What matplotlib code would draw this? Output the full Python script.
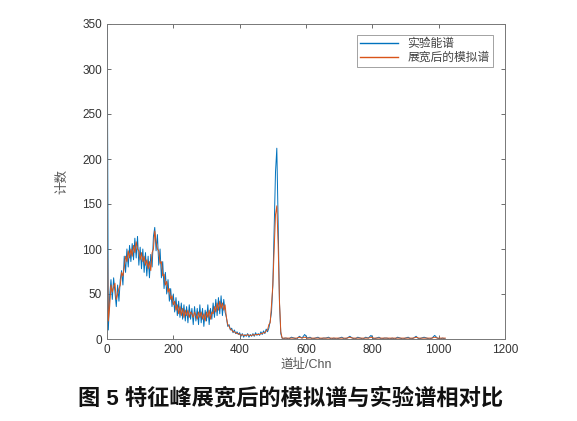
import numpy as np
import matplotlib
matplotlib.use("Agg")
import matplotlib.pyplot as plt

plt.rcParams['font.family'] = ['Liberation Sans', 'Noto Sans CJK SC']

# channels: fine step up to the peak, coarser on the flat tail
ch_main = np.arange(0, 540, 4)
ch_tail = np.arange(540, 1021, 8)

exp_main = [420, 10, 48, 66, 44, 68, 52, 36, 60, 42,
            66, 76, 60, 92, 74, 100, 80, 104, 86, 106,
            88, 112, 90, 114, 82, 102, 78, 100, 74, 96,
            70, 92, 68, 94, 80, 114, 124, 98, 116, 82,
            100, 68, 86, 56, 74, 50, 66, 42, 56, 36,
            50, 30, 46, 26, 42, 24, 40, 22, 38, 20,
            36, 18, 38, 22, 34, 16, 36, 20, 34, 16,
            38, 18, 34, 14, 32, 20, 38, 16, 34, 22,
            40, 24, 44, 26, 46, 28, 48, 26, 44, 30,
            24, 14, 16, 10, 12, 7, 10, 6, 8, 5,
            7, 3, 6, 2, 5, 3, 6, 2, 5, 3,
            6, 3, 7, 4, 6, 4, 8, 5, 9, 6,
            11, 8, 12, 20, 30, 60, 120, 185, 212, 130,
            40, 6, 1, 0, 1]
exp_tail = [1, 0, 2, 1, 0, 3, 1, 5, 1, 2,
            0, 1, 2, 0, 1, 1, 2, 0, 1, 0,
            1, 2, 0, 1, 3, 1, 0, 2, 1, 0,
            2, 1, 4, 0, 1, 2, 0, 1, 1, 0,
            1, 0, 2, 1, 0, 1, 2, 0, 1, 3,
            0, 1, 2, 1, 0, 1, 4, 1, 0, 1,
            0]

# simulated spectrum after peak broadening
sim_main = [150, 20, 36, 60, 52, 58, 62, 44, 50, 56,
            60, 74, 70, 80, 92, 86, 98, 90, 100, 92,
            104, 96, 108, 100, 98, 88, 96, 86, 92, 82,
            88, 78, 86, 76, 96, 100, 120, 108, 100, 98,
            84, 86, 70, 72, 60, 64, 52, 56, 44, 48,
            38, 42, 32, 38, 28, 36, 26, 34, 24, 32,
            26, 32, 24, 30, 28, 24, 30, 26, 22, 30,
            24, 30, 22, 28, 20, 30, 24, 32, 22, 30,
            28, 36, 30, 40, 32, 42, 34, 40, 32, 38,
            24, 16, 14, 11, 10, 8, 8, 7, 6, 6,
            5, 4, 5, 4, 4, 4, 5, 4, 4, 4,
            5, 4, 5, 5, 5, 5, 6, 6, 7, 7,
            9, 10, 16, 18, 38, 60, 100, 138, 148, 105,
            42, 8, 1, 1, 1]
sim_tail = [1, 1, 1, 1, 1, 2, 1, 2, 1, 1,
            1, 1, 1, 1, 1, 1, 1, 1, 1, 1,
            1, 1, 1, 1, 2, 1, 1, 1, 1, 1,
            1, 1, 2, 1, 1, 1, 1, 1, 1, 1,
            1, 1, 1, 1, 1, 1, 1, 1, 1, 2,
            1, 1, 1, 1, 1, 1, 2, 1, 1, 1,
            1]

channels = np.concatenate([ch_main, ch_tail])
exp_counts = np.array(exp_main + exp_tail)
sim_counts = np.array(sim_main + sim_tail)

fig = plt.figure(figsize=(5.77, 4.21), dpi=100)
ax = fig.add_axes([107/577, 1-339/421, 398/577, 315/421])

ax.plot(channels, exp_counts, color="#0072BD", lw=0.7, label="实验能谱")
ax.plot(channels, sim_counts, color="#D95319", lw=0.7, label="展宽后的模拟谱")

ax.set_xlim(0, 1200)
ax.set_ylim(0, 350)
ax.set_xticks(range(0, 1201, 200))
ax.set_yticks(range(0, 351, 50))
ax.tick_params(direction="in", top=True, right=True, length=3, width=0.6,
               labelsize=8.5, colors="#555555", labelcolor="#333333")
for s in ax.spines.values():
    s.set_color("#777777")
    s.set_linewidth(0.7)

ax.set_xlabel("道址/Chn", fontsize=9, color="#555555", labelpad=2)
ax.set_ylabel("计数", fontsize=9, color="#555555", labelpad=10)

leg = ax.legend(loc="upper right", fontsize=8.5, frameon=True, fancybox=False,
                handlelength=3.2, borderpad=0.3, labelspacing=0.15,
                bbox_to_anchor=(0.985, 0.985))
leg.get_frame().set_edgecolor("#777777")
leg.get_frame().set_linewidth(0.6)
for line in leg.get_lines():
    line.set_linewidth(1.0)
for t in leg.get_texts():
    t.set_color("#444444")

fig.text(0.503, 1-399/421, "图 5 特征峰展宽后的模拟谱与实验谱相对比",
         ha="center", va="center", fontsize=16, fontweight="bold",
         color="#111111")

fig.savefig("out.png", dpi=100)
